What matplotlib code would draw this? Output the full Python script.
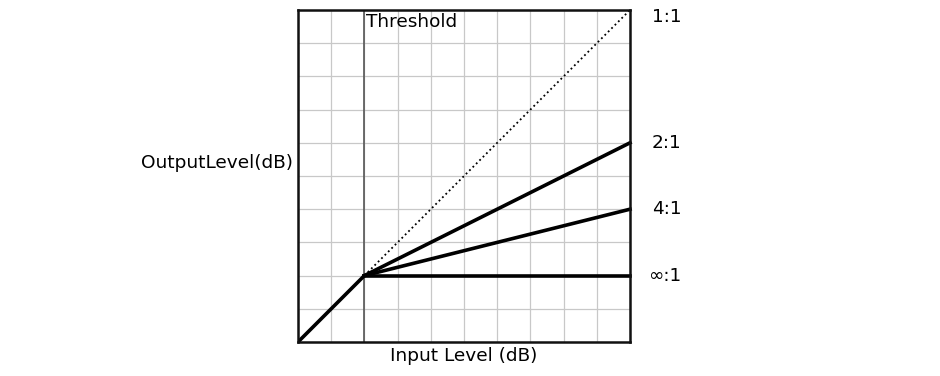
import numpy as np
import matplotlib.pyplot as plt

threshold = 2
x_max = 10
ratios = [1, 2, 4, np.inf]
ratio_labels = ['1:1', '2:1', '4:1', '∞:1']
ratio_styles = [':', '-', '-', '-']
ratio_widths = [1.3, 2.6, 2.6, 2.6]

fig = plt.figure(figsize=(9.4, 3.76), dpi=100)
ax = fig.add_axes([298 / 940, 34 / 376, 332 / 940, 332 / 376])

ax.set_xlim(0, x_max)
ax.set_ylim(0, x_max)
ax.set_xticks(np.arange(0, x_max + 1))
ax.set_yticks(np.arange(0, x_max + 1))
ax.grid(True, color='#c8c8c8', linewidth=0.9)
ax.tick_params(length=0, labelbottom=False, labelleft=False)
for s in ax.spines.values():
    s.set_linewidth(1.8)
    s.set_color('#111111')

ax.axvline(threshold, color='#555555', linewidth=1.2)

# below threshold: unity gain
ax.plot([0, threshold], [0, threshold], color='black', linewidth=2.6, solid_capstyle='butt')

for r, lab, ls, lw in zip(ratios, ratio_labels, ratio_styles, ratio_widths):
    y_end = threshold + (x_max - threshold) / r
    ax.plot([threshold, x_max], [threshold, y_end], color='black', linestyle=ls,
            linewidth=lw, clip_on=False)
    y_lab = min(y_end, 9.78)
    ax.text(11.55, y_lab, lab, ha='right', va='center', fontsize=13.3, clip_on=False)

ax.text(threshold + 0.05, 9.9, 'Threshold', ha='left', va='top', fontsize=13.3)
ax.text(-0.15, 5.4, 'OutputLevel(dB)', ha='right', va='center', fontsize=13.3)
ax.text(4.98, -0.42, 'Input Level (dB)', ha='center', va='center', fontsize=13.3)

fig.savefig('out.png', dpi=100)
